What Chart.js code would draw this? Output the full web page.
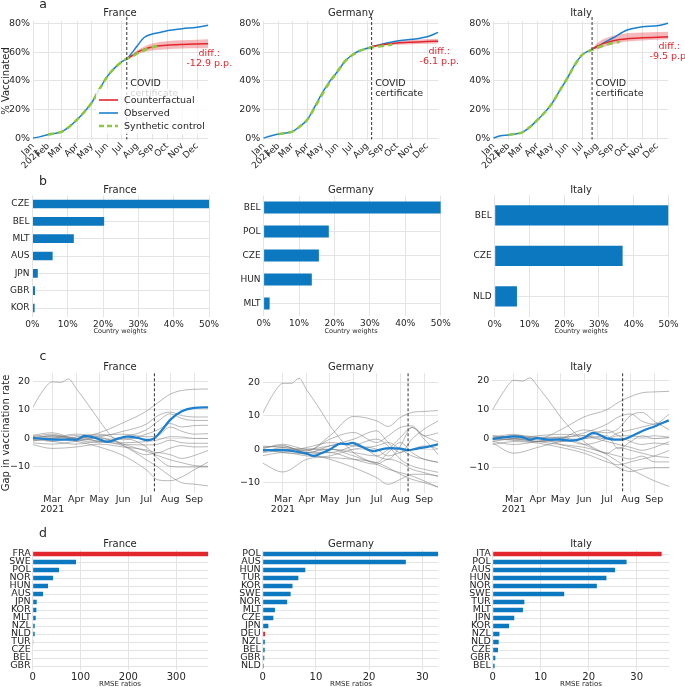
<!DOCTYPE html>
<html><head><meta charset="utf-8">
<script src="https://cdn.jsdelivr.net/npm/chart.js@4.4.1/dist/chart.umd.min.js"></script>
<style>
html,body{margin:0;padding:0;background:#fff;}
body{width:685px;height:687px;position:relative;overflow:hidden;font-family:"DejaVu Sans",sans-serif;}
canvas{position:absolute;}
.t{position:absolute;transform:translate(-50%,-50%);white-space:nowrap;color:#262626;line-height:1;}
</style></head><body>
<script>
// ===================== DATA =====================
const months = ['Jan','Feb','Mar','Apr','May','Jun','Jul','Aug','Sep','Oct','Nov','Dec'];
const monthStartDays = [0,31,59,90,120,151,181,212,243,273,304,334];
const pctTicks = [0,20,40,60,80];

// Panel a (day of year 2021, % vaccinated)
const aObsDaysFR = [0,15,31,45,59,74,90,105,120,135,151,166,181,191,200,212,227,243,258,273,304,334,357];
const aObsFR     = [0,1,2.5,3.3,4.5,8,13,18.5,25,34,43,49,53.5,55.6,59,64.5,70.6,72.9,74,75.2,76.6,77.6,79];
const aCfDaysFR  = [191,200,212,227,243,258,273,304,334,357];
const aCfFR      = [55.6,57.3,60,62.3,63.8,64.6,65.1,65.6,65.9,66.1];
const aCfLoFR    = [55.6,56.7,58.6,60.2,61.3,61.9,62.3,62.7,62.9,63.0];
const aCfHiFR    = [55.6,57.9,61.4,64.2,66.2,67.3,67.9,68.5,68.9,69.2];
const aScDaysFR  = [31,45,59,74,90,105,120,135,151,166,181,191,200,212,227,243,258];
const aScFR      = [2.5,3.3,4.5,8,13,18.5,25,34,43,49,53.5,55.6,56.8,59.3,61.7,63.6,65];

const aObsDaysDE = [0,15,31,45,59,74,90,105,120,135,151,166,181,196,212,221,243,273,304,334,357];
const aObsDE     = [0,1.5,2.8,3.5,4.5,8,13,22,31.4,39.5,46.5,53.5,58.2,61.2,62.9,64,65.9,68,69.2,71,74];
const aCfDaysDE  = [221,243,258,273,304,334,357];
const aCfDE      = [64,65.3,66,66.6,67.2,67.6,67.9];
const aCfLoDE    = [64,64.6,65,65.3,65.7,66,66.2];
const aCfHiDE    = [64,66,67,67.9,68.7,69.2,69.6];
const aScDaysDE  = [31,45,59,74,90,105,120,135,151,166,181,196,212,221,243,263];
const aScDE      = [2.8,3.5,4.5,8,13,21.5,30.5,39,46.5,53.5,58,61,62.7,63.5,64.5,65.5];

const aObsDaysIT = [0,15,31,45,59,74,90,105,120,135,151,166,181,201,212,227,243,273,304,334,357];
const aObsIT     = [0,1.7,2.2,2.8,4,7.5,12.7,18,24.4,33,41.9,51.2,58.2,62.2,64,67,69.9,75.7,78,78.7,80.4];
const aCfDaysIT  = [201,212,227,243,258,273,304,334,357];
const aCfIT      = [62.2,64.3,66.5,68,69,69.6,70.2,70.6,70.9];
const aCfLoIT    = [62.2,62.3,64,65.6,66.8,67.6,68.4,68.9,69.2];
const aCfHiIT    = [62.2,66.5,69.5,71.5,72.7,73.4,74,74.3,74.5];
const aScDaysIT  = [31,45,59,74,90,105,120,135,151,166,181,201,212,227,243,258];
const aScIT      = [2.2,3,4,7.5,12.7,18,24.4,33,41.9,51,58.2,61.8,63.3,65.2,66.6,67.5];

const treatFR = 191, treatDE = 221, treatIT = 201.5;
const diffFR = '-12.9 p.p.', diffDE = '-6.1 p.p.', diffIT = '-9.5 p.p.';

// Panel b (country weights, %)
const bLabelsFR = ['CZE','BEL','MLT','AUS','JPN','GBR','KOR'];
const bValsFR   = [50,20.3,11.7,5.7,1.5,0.7,0.6];
const bLabelsDE = ['BEL','POL','CZE','HUN','MLT'];
const bValsDE   = [50,18.4,15.6,13.6,1.7];
const bLabelsIT = ['BEL','CZE','NLD'];
const bValsIT   = [50,36.8,6.4];
const weightTicks = [0,10,20,30,40,50];

// Panel c (gap in vaccination rate)
const cTickDays = [59,90,120,151,181,212,243];
const cDonorDays = [31,59,90,120,151,181,196,212,227,243,263];
const cBigDays = [31,45,59,70,80,90,105,120,135,151,166,181,196,212,227,243,263];
const cBigFR = [9.5,16,19.8,19.6,20.8,17.5,12,6.3,1,-2.5,-4.8,-7.5,-10,-13.2,-15.5,-16,-16.7];
const cBigDE = [10,16,19.7,19.7,21.2,17.7,12.7,7.2,2.7,-1,-3,-4.5,-6,-7,-8,-9.5,-11.5];
const cBigIT = [10,16,20.1,19.8,20.9,18,13,7.5,3,-1,-3.5,-5.5,-8,-10.5,-12.5,-14.5,-16.5];
const cDonorsFR = [
  [-0.5,0.5,0,2,5.5,9.5,12.5,15.5,16.8,17.2,17.3],
  [0.5,1.5,-0.5,0.5,2.5,5,8,9.2,8,7.5,7.5],
  [-1,0,1,-1,0.5,3,6,8.6,7,6.3,6.3],
  [0,-1,0.5,1.5,-0.5,1.5,3,5.2,4,4.5,4.6],
  [1,2,0,1,1.5,0.6,1,4,2.5,1.5,1.7],
  [-1.5,-2,-1,0,-1.5,-1.1,-0.5,0.6,0.5,0,0],
  [0.5,-1,-2,-1,-2,-2.3,-2,-0.6,-1.5,-1.7,-1.7],
  [-2,-3.5,-3,-2,-3,-4,-5,-3.4,-2.5,-3,-2.9],
  [0,1,0,-1,-2.5,-5.7,-5,-5.7,-7,-6,-4],
  [-1,0,-1,-3,-6,-11,-14.5,-14.8,-13.5,-11,-8],
  [1,0.5,1.5,0.5,-2,-4.5,-6,-7.5,-8.5,-9.5,-9.8],
  [-0.5,1,-0.5,-1.5,0,-3,-7,-9.8,-10,-10,-10]
];
const cDonorsDE = [
  [-0.5,0,-0.5,4,9.8,8.5,6.8,9.5,11,11.3,11.6],
  [0.5,1,-1,1,3,5.5,2,-1,3,6,8.7],
  [-1,0.5,-0.5,3,5,2,4,6.5,7,4,5],
  [0,1.5,0,1,2,-2,-3,1,6.5,4,2],
  [-4,-6.8,-3,-2,0,1,2,0,-2,-3,-4],
  [-2,-1,-2,-2.5,-3,-4,-5.5,-7.5,-9,-10,-11.5],
  [0,-1,-1.5,-3,-5.5,-8.5,-10.5,-9,-7.5,-7.5,-8],
  [1,0.5,0,0,-2,-4,-1,2,-1,-3,-4],
  [0.5,1,-1,-1,1,3,1,-3,-5,-6,-7],
  [-0.5,0,-1.5,-1,-3,-4.5,-3,-4,-6,-7,-8.3],
  [0,-0.5,0.5,2,1,0,-2,-1,0,1,0],
  [-1,-0.5,-1,0,-1,-2,0,3.5,6.5,3,-2]
];
const cDonorsIT = [
  [0,1,0,3,7.5,10,12.5,14.5,15.8,16.1,16.3],
  [1,0,-1,0,2,5,7.5,8.5,6,5,8.5],
  [0.5,-0.5,-1,0,3,2,3.5,8,9,6,3],
  [-1,-2,-1,0,-2,0,2,3,4,5,6],
  [-1.5,-5,-3,-1,0,1,-3.5,-1,1,0,0.5],
  [0,1,0.5,-2,-4,-7,-10,-11.3,-10.5,-10,-10],
  [-1,0,-1,-2,-3,-5,-6,-7,-6,-8,-8],
  [0.5,1.5,0,0.5,-2,-5,-3,-4,-5,-6,-6.5],
  [-2,-1,-1.5,-3,-5,-8,-9,-8,-7,-6,-4],
  [0,-0.5,0.5,0.5,1,0,1,1,0.5,1,0.5],
  [1,0.5,-0.5,-1,0,3,1,-1,-2,-1.5,-2],
  [-0.5,0,1,1.5,1,-1,-2,-3,-4,-3,-1]
];
const cGapDaysFR = [34,50,65,80,90,101,115,131,145,156,170,182,191,200,212,227,243,261];
const cGapFR     = [0.2,-0.2,-0.4,-0.4,-0.5,0.9,0.2,-1.2,0,0.6,0.2,-0.6,0,2.5,6.5,9.5,10.7,10.9];
const cGapDaysDE = [33,59,73,90,99,108,121,134,143,149,160,178,186,199,212,222,234,247,262];
const cGapDE     = [-0.3,-0.3,-0.6,-1.3,-2,-1.3,0,1.7,1.5,1.9,0.9,-0.6,-0.1,0.3,0.2,-0.3,0.2,0.7,1.5];
const cGapDaysIT = [31,59,69,80,89,104,119,135,150,163,181,191,201,213,226,244,262];
const cGapIT     = [-0.1,0.8,0.6,-0.4,0.2,-0.3,-0.3,-0.7,0.2,2,0.1,-0.3,-0.3,0.8,2.5,4.3,6.3];

// Panel d (RMSE ratios)
const dLabelsFR = ['FRA','SWE','POL','NOR','HUN','AUS','JPN','KOR','MLT','NZL','NLD','TUR','CZE','BEL','GBR'];
const dValsFR   = [367,90.5,55,42.5,32,21.6,8.4,7.7,6.3,4.2,4.2,0.7,0,0,0];
const dLabelsDE = ['POL','AUS','HUN','TUR','KOR','SWE','NOR','MLT','CZE','JPN','DEU','NZL','BEL','GBR','NLD'];
const dValsDE   = [33,26.9,8,6.7,5.6,5.25,4.6,2.3,2,1.06,0.44,0.4,0.38,0.3,0.2];
const dLabelsIT = ['ITA','POL','AUS','HUN','NOR','SWE','TUR','MLT','JPN','KOR','NZL','NLD','CZE','GBR','BEL'];
const dValsIT   = [35.2,27.9,25.5,23.7,21.7,14.9,6.6,6.3,4.5,3.4,1.4,1.25,1.1,0.55,0.4];
const dTicksFR = [0,100,200,300];
const dTicksSmall = [0,10,20,30];

// ===================== STYLE / HELPERS =====================
const BLUE_BAR = '#0b78bf', BLUE_LINE = '#1a80cf', RED = '#e2262d', GREEN = '#8dc83f';
const GRID = '#e4e4e4', GRAY = 'rgba(120,120,120,0.75)', TXT = '#262626';
Chart.defaults.font.family = '"DejaVu Sans", sans-serif';
Chart.defaults.font.size = 9;
Chart.defaults.color = TXT;

const vlinePlugin = {
  id: 'vline',
  afterDatasetsDraw(chart, args, opts) {
    if (opts == null || opts.x == null) return;
    const {ctx, chartArea} = chart;
    const x = chart.scales.x.getPixelForValue(opts.x);
    ctx.save(); ctx.strokeStyle = '#333'; ctx.lineWidth = 1; ctx.setLineDash([3, 2]);
    ctx.beginPath(); ctx.moveTo(x, chartArea.top - (opts.ext || 0)); ctx.lineTo(x, chartArea.bottom); ctx.stroke(); ctx.restore();
  }
};
Chart.register(vlinePlugin);

function grid(extra) { return Object.assign({color: GRID, lineWidth: 1, drawTicks: false}, extra || {}); }
function fixedTicks(arr) { return s => { s.ticks = arr.map(v => ({value: v})); }; }
const xy = (d, v) => d.map((x, i) => ({x, y: v[i]}));

function makeChart(box, area, cfg) {
  const c = document.createElement('canvas');
  c.width = box.w; c.height = box.h;
  Object.assign(c.style, {left: box.x + 'px', top: box.y + 'px', width: box.w + 'px', height: box.h + 'px'});
  document.body.appendChild(c);
  const o = cfg.options;
  o.responsive = false; o.animation = false; o.devicePixelRatio = 1; o.events = [];
  o.layout = {padding: {left: 0, top: area.t - box.y, right: box.x + box.w - area.r, bottom: 0}};
  o.scales.x.afterFit = s => { s.height = box.y + box.h - area.b; };
  o.scales.y.afterFit = s => { s.width = area.l - box.x; };
  o.plugins = Object.assign({legend: {display: false}, tooltip: {enabled: false}}, o.plugins || {});
  const ch = new Chart(c, cfg);
  ch.$box = box;
  return ch;
}

function addText(txt, x, y, size, opts) {
  opts = opts || {};
  const d = document.createElement('div');
  d.className = 't';
  d.textContent = txt;
  d.style.left = x + 'px'; d.style.top = y + 'px'; d.style.fontSize = size + 'px';
  if (opts.color) d.style.color = opts.color;
  if (opts.align === 'left') d.style.transform = 'translate(0,-50%)';
  if (opts.rotate) d.style.transform = 'translate(-50%,-50%) rotate(-90deg)';
  document.body.appendChild(d);
  return d;
}

// ===================== PANEL BUILDERS =====================
function panelA(box, area, obsD, obsV, cfD, cfV, cfLo, cfHi, scD, scV, treat) {
  const line = {pointRadius: 0, cubicInterpolationMode: 'monotone', fill: false};
  return makeChart(box, area, {
    type: 'line',
    data: {datasets: [
      Object.assign({label: 'Synthetic control', data: xy(scD, scV), borderColor: GREEN, borderWidth: 2.6, borderDash: [6, 4]}, line),
      Object.assign({label: 'Counterfactual', data: xy(cfD, cfV), borderColor: RED, borderWidth: 1.5}, line),
      Object.assign({label: 'Observed', data: xy(obsD, obsV), borderColor: BLUE_LINE, borderWidth: 1.5}, line),
      {label: 'upper', data: xy(cfD, cfHi), borderColor: 'rgba(0,0,0,0)', borderWidth: 0, pointRadius: 0, cubicInterpolationMode: 'monotone', backgroundColor: 'rgba(228,70,80,0.38)', fill: '+1'},
      {label: 'lower', data: xy(cfD, cfLo), borderColor: 'rgba(0,0,0,0)', borderWidth: 0, pointRadius: 0, cubicInterpolationMode: 'monotone', fill: false}
    ]},
    options: {
      scales: {
        x: {type: 'linear', min: 0, max: 357, grid: grid(), border: {display: false},
            afterBuildTicks: fixedTicks(monthStartDays),
            ticks: {autoSkip: false, minRotation: 45, maxRotation: 45, padding: 2, font: {size: 9, lineHeight: 1},
                    callback: v => { const i = monthStartDays.indexOf(v); return i === 0 ? ['Jan', '2021'] : months[i]; }}},
        y: {type: 'linear', min: -1, max: 82, grid: grid(), border: {display: false},
            afterBuildTicks: fixedTicks(pctTicks),
            ticks: {padding: 3, font: {size: 9.5}, callback: v => v + '%'}}
      },
      plugins: {vline: {x: treat, ext: 4}}
    }
  });
}

function panelB(box, area, labels, vals) {
  return makeChart(box, area, {
    type: 'bar',
    data: {labels, datasets: [{data: vals, backgroundColor: BLUE_BAR, barPercentage: 0.5, categoryPercentage: 1}]},
    options: {
      indexAxis: 'y',
      scales: {
        x: {type: 'linear', min: 0, max: 50, grid: grid(), border: {display: false},
            afterBuildTicks: fixedTicks(weightTicks),
            ticks: {padding: 3, font: {size: 9}, callback: v => v + '%'}},
        y: {grid: grid({offset: false}), border: {display: false}, ticks: {padding: 3, font: {size: 9}, autoSkip: false}}
      }
    }
  });
}

function panelC(box, area, xMin, xMax, yMin, yMax, bigV, donors, gapD, gapV, treat) {
  const ds = [{data: xy(gapD, gapV), borderColor: BLUE_LINE, borderWidth: 2.2, pointRadius: 0, cubicInterpolationMode: 'monotone', fill: false}];
  ds.push({data: xy(cBigDays, bigV), borderColor: GRAY, borderWidth: 0.7, pointRadius: 0, cubicInterpolationMode: 'monotone', fill: false});
  donors.forEach(v => ds.push({data: xy(cDonorDays, v), borderColor: GRAY, borderWidth: 0.7, pointRadius: 0, cubicInterpolationMode: 'monotone', fill: false}));
  return makeChart(box, area, {
    type: 'line',
    data: {datasets: ds},
    options: {
      scales: {
        x: {type: 'linear', min: xMin, max: xMax, grid: grid(), border: {display: false},
            afterBuildTicks: fixedTicks(cTickDays),
            ticks: {autoSkip: false, maxRotation: 0, padding: 2, font: {size: 9.5, lineHeight: 1.05},
                    callback: v => { const i = monthStartDays.indexOf(v); return i === 2 ? ['Mar', '2021'] : months[i]; }}},
        y: {type: 'linear', min: yMin, max: yMax, grid: grid(), border: {display: false},
            afterBuildTicks: fixedTicks([-10, 0, 10, 20]),
            ticks: {padding: 3, font: {size: 9.5}, callback: v => v < 0 ? '\u2212' + Math.abs(v) : String(v)}}
      },
      plugins: {vline: {x: treat}}
    }
  });
}

function panelD(box, area, labels, vals, own, xMax, ticks) {
  return makeChart(box, area, {
    type: 'bar',
    data: {labels, datasets: [{data: vals, backgroundColor: labels.map(l => l === own ? RED : BLUE_BAR), barPercentage: 0.55, categoryPercentage: 1}]},
    options: {
      indexAxis: 'y',
      scales: {
        x: {type: 'linear', min: 0, max: xMax, grid: grid(), border: {display: false},
            afterBuildTicks: fixedTicks(ticks),
            ticks: {padding: 1, font: {size: 10}}},
        y: {grid: grid({offset: false}), border: {display: false}, ticks: {padding: 2, font: {size: 9.5, lineHeight: 0.9}, autoSkip: false}}
      }
    }
  });
}

// ===================== BUILD =====================
const aFR = panelA({x: 0, y: 0, w: 234, h: 178}, {l: 33, t: 21, r: 208.3, b: 139.5}, aObsDaysFR, aObsFR, aCfDaysFR, aCfFR, aCfLoFR, aCfHiFR, aScDaysFR, aScFR, treatFR);
const aDE = panelA({x: 234, y: 0, w: 226, h: 178}, {l: 263.3, t: 21, r: 438.3, b: 139.5}, aObsDaysDE, aObsDE, aCfDaysDE, aCfDE, aCfLoDE, aCfHiDE, aScDaysDE, aScDE, treatDE);
const aIT = panelA({x: 460, y: 0, w: 225, h: 178}, {l: 493.3, t: 21, r: 668.3, b: 139.5}, aObsDaysIT, aObsIT, aCfDaysIT, aCfIT, aCfLoIT, aCfHiIT, aScDaysIT, aScIT, treatIT);

panelB({x: 0, y: 184, w: 230, h: 152}, {l: 32.5, t: 195.3, r: 209, b: 316.7}, bLabelsFR, bValsFR);
panelB({x: 232, y: 184, w: 230, h: 152}, {l: 263.6, t: 195.5, r: 440.8, b: 315.5}, bLabelsDE, bValsDE);
panelB({x: 462, y: 184, w: 223, h: 152}, {l: 494.7, t: 195.2, r: 668.5, b: 316.5}, bLabelsIT, bValsIT);

panelC({x: 0, y: 360, w: 230, h: 160}, {l: 33, t: 373.3, r: 208, b: 492.7}, 34, 261, -19, 22.8, cBigFR, cDonorsFR, cGapDaysFR, cGapFR, 191.5);
panelC({x: 232, y: 360, w: 228, h: 160}, {l: 263, t: 373.3, r: 438, b: 492.7}, 33, 261, -13, 22.7, cBigDE, cDonorsDE, cGapDaysDE, cGapDE, 222);
panelC({x: 462, y: 360, w: 223, h: 160}, {l: 492.3, t: 373.3, r: 669.3, b: 492.7}, 30.6, 262.7, -18.6, 22.5, cBigIT, cDonorsIT, cGapDaysIT, cGapIT, 201.5);

panelD({x: 0, y: 536, w: 230, h: 151}, {l: 32.7, t: 550, r: 208.3, b: 670}, dLabelsFR, dValsFR, 'FRA', 367, dTicksFR);
panelD({x: 232, y: 536, w: 228, h: 151}, {l: 262.7, t: 550, r: 438.3, b: 670}, dLabelsDE, dValsDE, 'DEU', 33, dTicksSmall);
panelD({x: 462, y: 536, w: 223, h: 151}, {l: 492.7, t: 550, r: 669.3, b: 670}, dLabelsIT, dValsIT, 'ITA', 36.8, dTicksSmall);

// ===================== TEXT OVERLAYS =====================
[['a', 4], ['b', 181], ['c', 356], ['d', 533]].forEach(([s, y]) => addText(s, 43, y, 12.5));
[13, 190, 367, 544].forEach(y => {
  addText('France', 120, y, 10);
  addText('Germany', 351, y, 10);
  addText('Italy', 581, y, 10);
});
addText('% Vaccinated', 6, 81, 10, {rotate: true});
addText('Gap in vaccination rate', 6, 433, 10, {rotate: true});
[120, 351, 581].forEach(x => { addText('Country weights', x, 331, 6.5); addText('RMSE ratios', x, 684, 7); });

function annotateA(ch, treat, cfV, diff) {
  const b = ch.$box, xs = ch.scales.x, ys = ch.scales.y;
  const xl = xs.getPixelForValue(treat) + b.x + 3.5;
  addText('COVID', xl, b.y + ys.getPixelForValue(38.8), 9.5, {align: 'left'});
  addText('certificate', xl, b.y + ys.getPixelForValue(31.8), 9.5, {align: 'left'});
  const yr = b.y + ys.getPixelForValue(cfV[cfV.length - 1]);
  const xr = b.x + ch.chartArea.right + 1;
  addText('diff.:', xr, yr + 9.5, 9.5, {color: RED});
  addText(diff, xr, yr + 19.5, 9.5, {color: RED});
}
annotateA(aFR, treatFR, aCfFR, diffFR);
annotateA(aDE, treatDE, aCfDE, diffDE);
annotateA(aIT, treatIT, aCfIT, diffIT);

// legend for France panel a
(function () {
  const lg = document.createElement('div');
  Object.assign(lg.style, {position: 'absolute', left: '96px', top: '89px', width: '112px', height: '45px', background: 'rgba(255,255,255,0.8)'});
  document.body.appendChild(lg);
  const items = [['Counterfactual', RED, ''], ['Observed', BLUE_LINE, ''], ['Synthetic control', GREEN, '5,3']];
  items.forEach(([lab, col, dash], i) => {
    const y = 99.5 + i * 13.3;
    const svg = document.createElementNS('http://www.w3.org/2000/svg', 'svg');
    svg.setAttribute('width', '20'); svg.setAttribute('height', '6');
    Object.assign(svg.style, {position: 'absolute', left: '99px', top: (y - 3) + 'px'});
    const ln = document.createElementNS('http://www.w3.org/2000/svg', 'line');
    ln.setAttribute('x1', '0'); ln.setAttribute('x2', '19'); ln.setAttribute('y1', '3'); ln.setAttribute('y2', '3');
    ln.setAttribute('stroke', col); ln.setAttribute('stroke-width', dash ? '2.6' : '1.6');
    if (dash) ln.setAttribute('stroke-dasharray', dash);
    svg.appendChild(ln);
    document.body.appendChild(svg);
    addText(lab, 124, y, 9.5, {align: 'left'});
  });
})();
</script>
</body></html>
